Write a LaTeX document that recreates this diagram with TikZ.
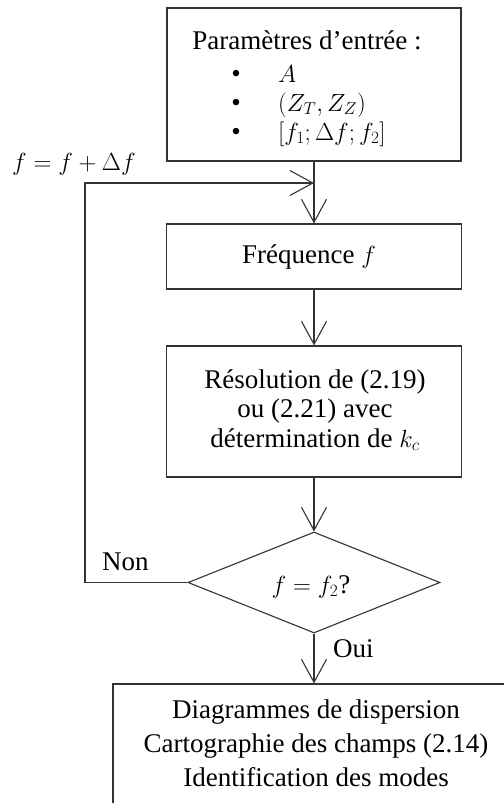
\documentclass[tikz,border=0pt]{standalone}
\usepackage{fontspec}
\setmainfont{Liberation Serif}
\usetikzlibrary{arrows.meta,shapes.geometric}
\begin{document}
\begin{tikzpicture}[x=1bp,y=-1bp,
  every node/.style={font=\fontsize{27bp}{29.5bp}\selectfont, inner sep=0pt},
  box/.style={draw=black!80, line width=1.1bp, rectangle},
  txt/.style={anchor=base},
  arr/.style={draw=black!80, line width=1.1bp, -{Straight Barb[length=23bp,width=25bp,line width=1.1bp]}},
  ln/.style={draw=black!80, line width=1.1bp}]
\useasboundingbox (0,0) rectangle (504,803);
\clip (0,0) rectangle (504,803);
% boxes
\node[box, minimum width=294bp, minimum height=153bp] (in) at (314,84.5) {};
\node[box, minimum width=295bp, minimum height=65bp] (freq) at (314,256.5) {};
\node[box, minimum width=295bp, minimum height=131bp] (res) at (314,411.5) {};
\node[draw=black!80, line width=1.1bp, diamond, minimum width=252bp, minimum height=101bp] (dec) at (314,582.5) {};
\node[box, minimum width=406bp, minimum height=128bp] (out) at (316,748) {};
% texts
\node[txt] (t0) at (307,50) {Paramètres d’entrée :};
\node[txt] (b1) at (236,82) {\textbullet};
\node[txt] (b2) at (236,111) {\textbullet};
\node[txt] (b3) at (236,140) {\textbullet};
\node[anchor=base west] (i1) at (278,82) {$A$};
\node[anchor=base west] (i2) at (278,111) {$(Z_T,Z_Z)$};
\node[anchor=base west] (i3) at (278,140) {$[f_1;\Delta f;f_2]$};
\node[txt] (tf) at (309,263) {Fréquence $f$};
\node[txt] (r1) at (315,388) {Résolution de (2.19)};
\node[txt] (r2) at (315,417.5) {ou (2.21) avec};
\node[txt] (r3) at (315,447) {détermination de $k_c$};
\node[txt] (td) at (311,593) {$f=f_2$?};
\node[anchor=base west] (non) at (102,570) {Non};
\node[anchor=base west] (oui) at (333,657) {Oui};
\node[anchor=base west] (inc) at (12,170) {$f=f+\Delta f$};
\node[txt] (o1) at (316,718) {Diagrammes de dispersion};
\node[txt] (o2) at (316,752) {Cartographie des champs (2.14)};
\node[txt] (o3) at (316,786) {Identification des modes};
% connectors
\coordinate (join) at (314,183);
\coordinate (lx) at (85,582.5);
\draw[arr] (in.south) -- (freq.north);
\draw[arr] (freq.south) -- (res.north);
\draw[arr] (res.south) -- (dec.north);
\draw[arr] (dec.west) -- (lx) |- (join);
\draw[arr] (dec.south) -- (dec.south |- out.north);
\end{tikzpicture}
\end{document}
